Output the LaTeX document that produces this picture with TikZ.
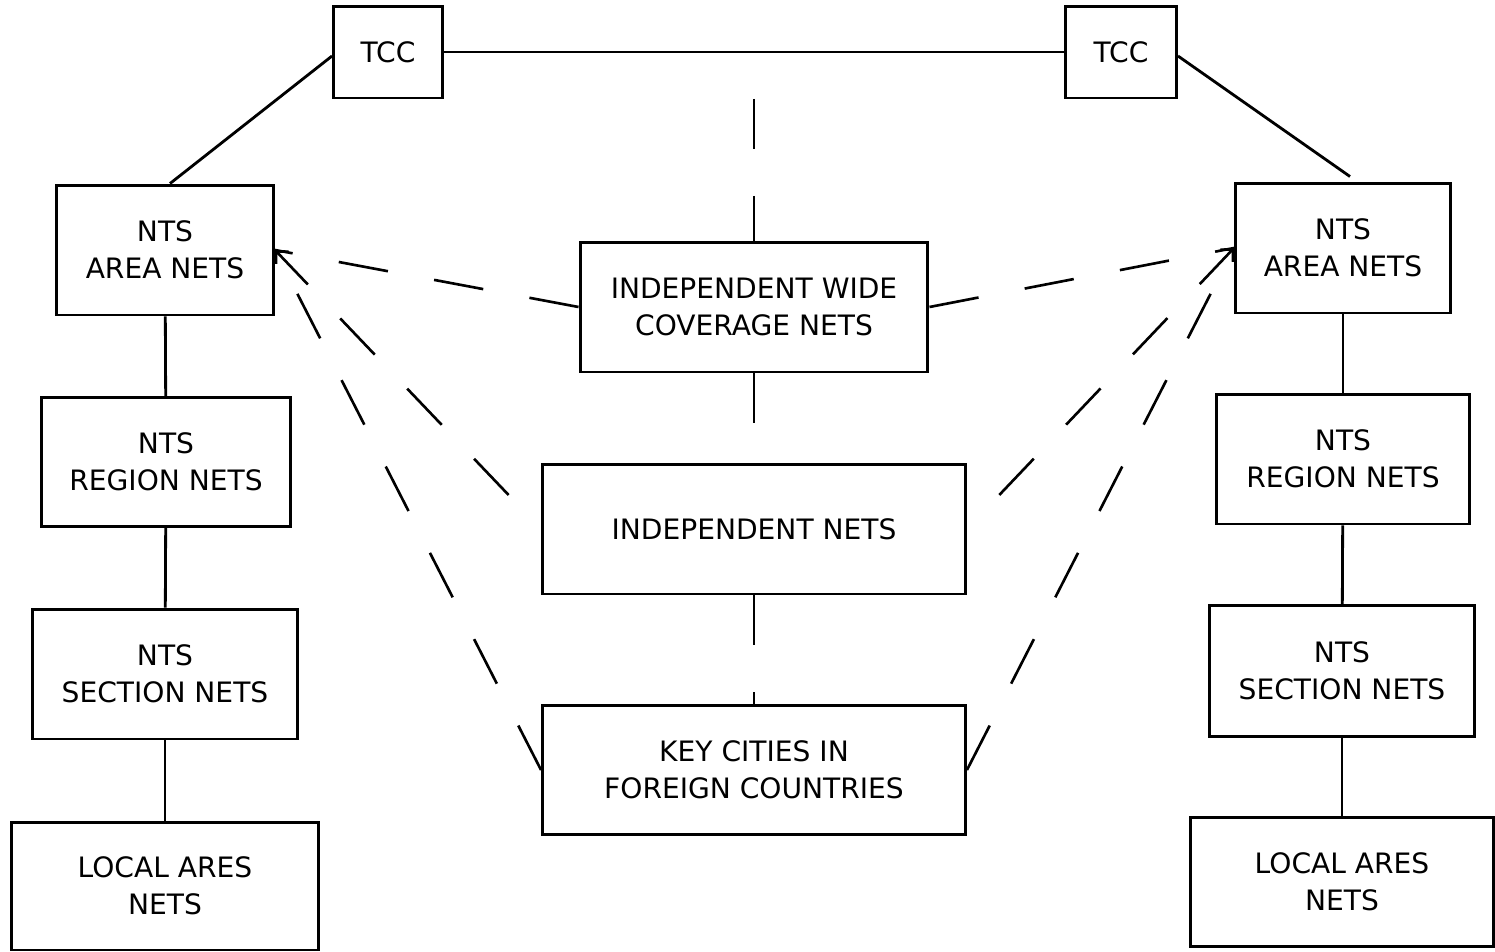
\documentclass[tikz,border=0pt]{standalone}
\usepackage{fontspec}
\setmainfont{DejaVu Sans}
\usetikzlibrary{arrows.meta}

\tikzset{
  box/.style={draw, line width=1.7pt, align=center, inner sep=0pt,
    font=\fontsize{16}{21}\selectfont},
  dashline/.style={line width=1.5pt, dash pattern={on 1cm off 0.94cm}},
}

\begin{document}
\begin{tikzpicture}[x=0.02cm, y=-0.02cm, line width=1.6pt,
    >={Straight Barb[length=5pt,width=10pt]}]
      \useasboundingbox (0,0) rectangle (1495,951);

	% top
	\node[box, minimum width=2.18cm, minimum height=1.84cm] (tccL) at (388,52) {TCC};
	\node[box, minimum width=2.22cm, minimum height=1.84cm] (tccR) at (1121,52) {TCC};

	% left column
	\node[box, minimum width=4.34cm, minimum height=2.6cm] (areaL) at (165,250) {NTS\\AREA NETS};
	\node[box, minimum width=5.0cm, minimum height=2.58cm] (regionL) at (166,462) {NTS\\REGION NETS};
	\node[box, minimum width=5.3cm, minimum height=2.6cm] (sectionL) at (165,674) {NTS\\SECTION NETS};
	\node[box, minimum width=6.14cm, minimum height=2.56cm] (localL) at (165,886) {LOCAL ARES\\NETS};

	% right column
	\node[box, minimum width=4.3cm, minimum height=2.6cm] (areaR) at (1343,248) {NTS\\AREA NETS};
	\node[box, minimum width=5.06cm, minimum height=2.6cm] (regionR) at (1343,459) {NTS\\REGION NETS};
	\node[box, minimum width=5.3cm, minimum height=2.62cm] (sectionR) at (1342,671) {NTS\\SECTION NETS};
	\node[box, minimum width=6.08cm, minimum height=2.58cm] (localR) at (1342,882) {LOCAL ARES\\NETS};

	% middle
	\node[box, minimum width=6.96cm, minimum height=2.6cm] (iwc) at (754,307) {INDEPENDENT WIDE\\COVERAGE NETS};
	\node[box, minimum width=8.46cm, minimum height=2.6cm] (indep) at (754,529) {INDEPENDENT NETS};
	\node[box, minimum width=8.46cm, minimum height=2.58cm] (keyc) at (754,770) {KEY CITIES IN\\FOREIGN COUNTRIES};

	\draw (tccL) -- (tccR);
	\draw ([yshift=-0.08cm]tccL.west) -- ([xshift=0.1cm]areaL.north);
	\draw ([yshift=-0.08cm]tccR.east) -- ([xshift=0.14cm,yshift=0.1cm]areaR.north);

	\foreach \a/\b in {areaL/regionL, regionL/sectionL, sectionL/localL,
	                   areaR/regionR, regionR/sectionR, sectionR/localR}
	    {
		  \draw (\a) -- (\b);
	    }

	\draw [dashline, dash phase=1cm] (iwc.north |- tccL.east) -- (iwc.north);
	\draw [dashline] (iwc) -- (indep);
	\draw [dashline] (indep) -- (keyc);

	\draw [dashline] (iwc.west) -- (areaL.east);
	\draw [dashline, dash phase=1cm, ->] (indep.west) -- (areaL.east);
	\draw [dashline] (keyc.west) -- (areaL.east);

	\draw [dashline] (iwc.east) -- (areaR.west);
	\draw [dashline, dash phase=1cm, ->] (indep.east) -- (areaR.west);
	\draw [dashline] (keyc.east) -- (areaR.west);
    \end{tikzpicture}
\end{document}
